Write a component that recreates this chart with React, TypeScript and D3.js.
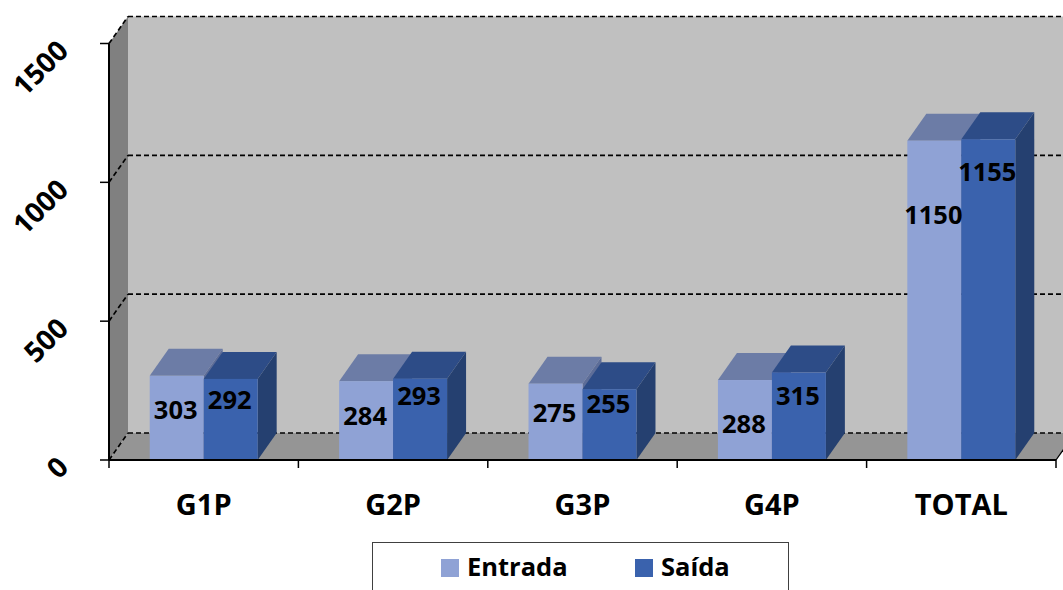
import React from 'react';
import * as d3 from 'd3';

const categories = ['G1P', 'G2P', 'G3P', 'G4P', 'TOTAL'];
const seriesNames = ['Entrada', 'Saída'];
const entrada = [303, 284, 275, 288, 1150];
const saida = [292, 293, 255, 315, 1155];
const yTicks = [0, 500, 1000, 1500];
// how far each value label sits below its bar top (labels were hand-placed)
const labelDrop = [
  [34, 35, 29, 44, 74],
  [21, 17, 15, 24, 33],
];

const W = 1063;
const H = 590;
const left = 109;
const right = 1056;
const base = 460;
const top = 43.5;
// depth offset of the 3D box
const dx = 19;
const dy = -27;

const faces = [
  { front: '#8fa2d5', top: '#6c7ca6', side: '#5d6d98' },
  { front: '#3a62ad', top: '#2d4c87', side: '#254070' },
];

const font = "'Open Sans', 'DejaVu Sans', sans-serif";

const App: React.FC = () => {
  const y = d3.scaleLinear().domain([0, 1500]).range([base, top]);
  const x = d3.scaleBand().domain(categories).range([left, right]).paddingInner(0.43).paddingOuter(0.215);
  const xs = d3.scaleBand().domain(seriesNames).range([0, x.bandwidth()]);
  const values = [entrada, saida];
  const step = x.step();

  const poly = (pts: [number, number][]) => pts.map(p => p.join(',')).join(' ');

  return (
    <svg width={W} height={H} style={{ position: 'absolute', left: 0, top: 0, background: '#fff' }}>
      {/* walls */}
      <rect x={left + dx} y={y(1500) + dy} width={right - left + 30} height={y(0) - y(1500)} fill="#c0c0c0" />
      <polygon
        points={poly([[left, y(1500)], [left + dx, y(1500) + dy], [left + dx, y(0) + dy], [left, y(0)]])}
        fill="#808080"
      />
      <polygon
        points={poly([[left, y(0)], [left + dx, y(0) + dy], [right + dx, y(0) + dy], [right, y(0)]])}
        fill="#959595"
      />
      {/* gridlines */}
      {yTicks.map(t => (
        <g key={t} stroke="#000" strokeWidth={1.7} strokeDasharray="5,3" fill="none">
          <line x1={left + dx} x2={right + dx + 10} y1={y(t) + dy} y2={y(t) + dy} />
          <line x1={left} y1={y(t)} x2={left + dx} y2={y(t) + dy} />
        </g>
      ))}
      <line x1={right} y1={base} x2={right + dx} y2={base + dy} stroke="#000" strokeWidth={1.3} />

      {/* bars */}
      {categories.map((c, i) => (
        <g key={c}>
          {values.map((vals, s) => {
            const x0 = (x(c) ?? 0) + (xs(seriesNames[s]) ?? 0);
            const x1 = x0 + xs.bandwidth();
            const yt = y(vals[i]);
            const f = faces[s];
            return (
              <g key={s}>
                <polygon points={poly([[x0, yt], [x0 + dx, yt + dy], [x1 + dx, yt + dy], [x1, yt]])} fill={f.top} />
                <polygon points={poly([[x1, yt], [x1 + dx, yt + dy], [x1 + dx, base + dy], [x1, base]])} fill={f.side} />
                <rect x={x0} y={yt} width={x1 - x0} height={base - yt} fill={f.front} />
              </g>
            );
          })}
          {values.map((vals, s) => {
            const x0 = (x(c) ?? 0) + (xs(seriesNames[s]) ?? 0);
            return (
              <text
                key={'l' + s}
                x={x0 + xs.bandwidth() / 2 - 1}
                y={y(vals[i]) + labelDrop[s][i]}
                dy="0.35em"
                textAnchor="middle"
                fontFamily={font}
                fontWeight="bold"
                fontSize={25.5}
                fill="#000"
              >
                {vals[i]}
              </text>
            );
          })}
        </g>
      ))}

      {/* axes */}
      <line x1={left} x2={left} y1={y(1500)} y2={base} stroke="#000" strokeWidth={2} />
      <line x1={left} x2={right} y1={base} y2={base} stroke="#000" strokeWidth={2} />
      {yTicks.map(t => (
        <g key={'t' + t}>
          <line x1={left - 9} x2={left} y1={y(t)} y2={y(t)} stroke="#000" strokeWidth={1.5} />
          <text
            transform={`translate(70,${y(t) + 9}) rotate(-45)`}
            textAnchor="end"
            fontFamily={font}
            fontWeight="bold"
            fontSize={28}
            fill="#000"
          >
            {t}
          </text>
        </g>
      ))}
      {d3.range(categories.length + 1).map(k => (
        <line key={'ct' + k} x1={left + k * step} x2={left + k * step} y1={base} y2={base + 8} stroke="#000" strokeWidth={1.5} />
      ))}
      {categories.map(c => (
        <text
          key={'c' + c}
          x={(x(c) ?? 0) + x.bandwidth() / 2}
          y={515}
          textAnchor="middle"
          fontFamily={font}
          fontWeight="bold"
          fontSize={29}
          fill="#000"
        >
          {c}
        </text>
      ))}

      {/* legend */}
      <rect x={372.5} y={542.5} width={416} height={60} fill="#fff" stroke="#404040" strokeWidth={1} />
      {seriesNames.map((n, s) => {
        const lx = [441, 635][s];
        return (
          <g key={n}>
            <rect x={lx} y={559} width={18} height={18} fill={faces[s].front} />
            <text x={lx + 26} y={576} fontFamily={font} fontWeight="bold" fontSize={25.5} fill="#000">
              {n}
            </text>
          </g>
        );
      })}
    </svg>
  );
};

export default App;
